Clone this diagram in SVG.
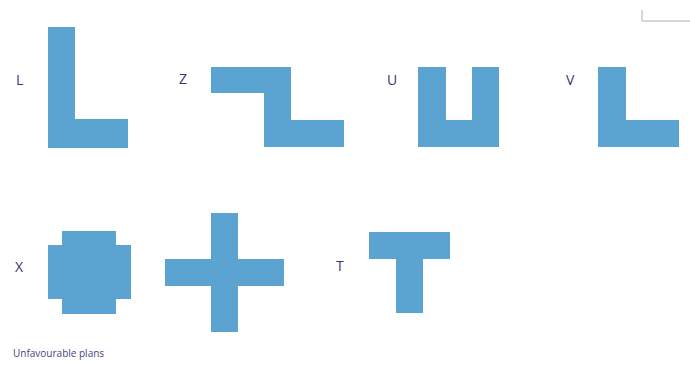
<svg xmlns="http://www.w3.org/2000/svg" width="690" height="365" viewBox="0 0 690 365">
<style>
.shape{fill:#5ba3d1;}
.lbl{font-family:"Open Sans","Liberation Sans",sans-serif;font-size:14px;fill:#3d3472;}
.cap{font-family:"Open Sans","Liberation Sans",sans-serif;font-size:10px;fill:#4b4480;}
</style>
<rect width="690" height="365" fill="#ffffff"/>
<path d="M642 10 V21 H690" fill="none" stroke="#b0b0b0" stroke-width="1"/>
<g id="plan-L">
<text class="lbl" x="16" y="85">L</text>
<polygon class="shape" points="48,27 75,27 75,119 128,119 128,148 48,148"/>
</g>
<g id="plan-Z">
<text class="lbl" x="179" y="84">Z</text>
<polygon class="shape" points="211,67 291,67 291,120 344,120 344,147 264,147 264,93 211,93"/>
</g>
<g id="plan-U">
<text class="lbl" x="387" y="85">U</text>
<polygon class="shape" points="418,67 446,67 446,120 472,120 472,67 499,67 499,147 418,147"/>
</g>
<g id="plan-V">
<text class="lbl" x="566" y="85">V</text>
<polygon class="shape" points="598,67 626,67 626,120 679,120 679,147 598,147"/>
</g>
<g id="plan-X">
<text class="lbl" x="15" y="272">X</text>
<polygon class="shape" points="62,231 116,231 116,245 131,245 131,299 116,299 116,314 62,314 62,299 48,299 48,245 62,245"/>
</g>
<g id="plan-cross">
<polygon class="shape" points="211,213 238,213 238,259 284,259 284,286 238,286 238,332 211,332 211,286 165,286 165,259 211,259"/>
</g>
<g id="plan-T">
<text class="lbl" x="336" y="271">T</text>
<polygon class="shape" points="369,232 450,232 450,259 423,259 423,313 396,313 396,259 369,259"/>
</g>
<text class="cap" x="13" y="357">Unfavourable plans</text>
</svg>
